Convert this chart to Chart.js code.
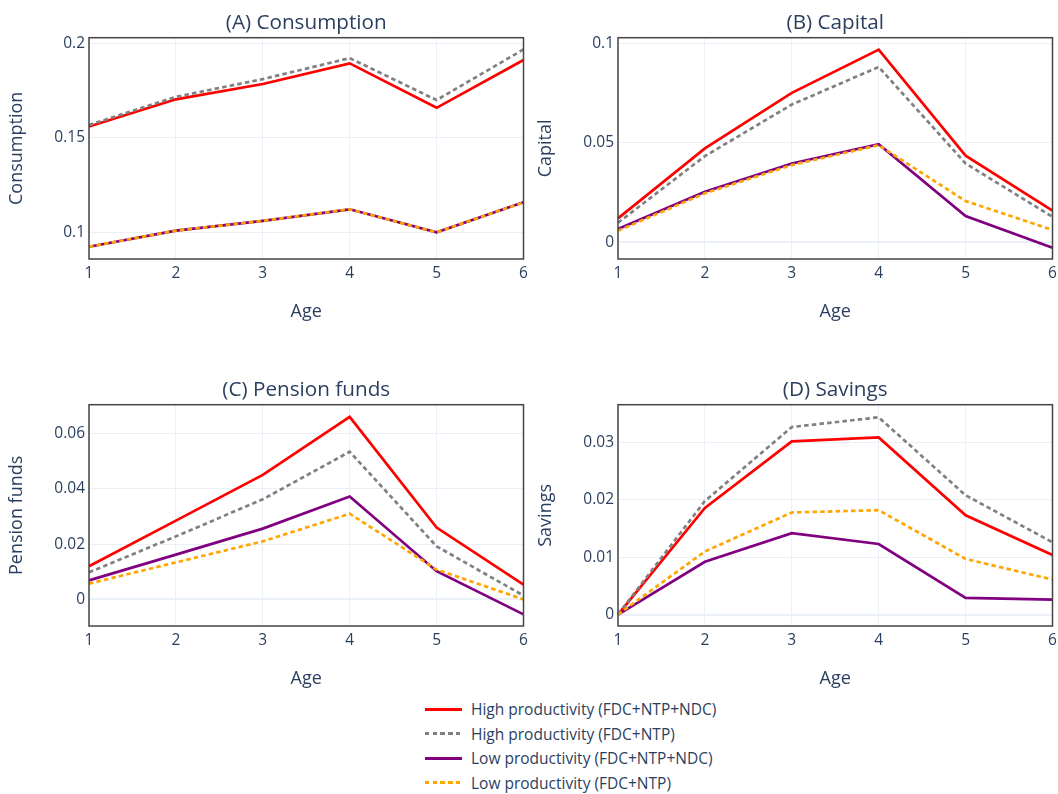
<!DOCTYPE html>
<html>
<head>
<meta charset="utf-8">
<script src="https://cdn.jsdelivr.net/npm/chart.js@4.4.1/dist/chart.umd.min.js"></script>
<style>
body{margin:0;background:#fff;font-family:"Open Sans",sans-serif;}
#wrap{position:relative;width:1058px;height:794px;overflow:hidden;}
#wrap canvas{position:absolute;}
.legend{position:absolute;left:425px;top:697px;color:#2a3f5f;font-size:15.5px;}
.row{height:24.5px;display:flex;align-items:center;white-space:nowrap;}
.sw{width:37px;height:3px;margin-right:9px;}
</style>
</head>
<body>
<div id="wrap">
  <canvas id="pA" width="529" height="329" style="left:0;top:0"></canvas>
  <canvas id="pB" width="529" height="329" style="left:529px;top:0"></canvas>
  <canvas id="pC" width="529" height="329" style="left:0;top:367px"></canvas>
  <canvas id="pD" width="529" height="329" style="left:529px;top:367px"></canvas>
  <div class="legend" id="legend"></div>
</div>
<script>
/* --- DATA --- */
const ages = [1, 2, 3, 4, 5, 6];
const seriesLabels = [
  'High productivity (FDC+NTP+NDC)',
  'High productivity (FDC+NTP)',
  'Low productivity (FDC+NTP+NDC)',
  'Low productivity (FDC+NTP)'
];

// (A) Consumption
const consHighNDC = [0.1560, 0.1704, 0.1785, 0.1894, 0.1659, 0.1912];
const consHighNTP = [0.1568, 0.1717, 0.1811, 0.1922, 0.1700, 0.1968];
const consLowNDC  = [0.0924, 0.1009, 0.1061, 0.1122, 0.1000, 0.1159];
const consLowNTP  = [0.0924, 0.1009, 0.1061, 0.1122, 0.1000, 0.1159];
const consTicks = [0.1, 0.15, 0.2];
const consRange = [0.0859, 0.2030];

// (B) Capital
const capHighNDC = [0.0120, 0.0472, 0.0751, 0.0968, 0.0435, 0.0159];
const capHighNTP = [0.0098, 0.0433, 0.0692, 0.0881, 0.0396, 0.0128];
const capLowNDC  = [0.0067, 0.0254, 0.0396, 0.0493, 0.0132, -0.0027];
const capLowNTP  = [0.0058, 0.0246, 0.0388, 0.0488, 0.0207, 0.0062];
const capTicks = [0, 0.05, 0.1];
const capRange = [-0.0084, 0.1028];

// (C) Pension funds
const penHighNDC = [0.0120, 0.0285, 0.0450, 0.0660, 0.0260, 0.0054];
const penHighNTP = [0.0098, 0.0228, 0.0362, 0.0534, 0.0192, 0.0014];
const penLowNDC  = [0.0069, 0.0162, 0.0256, 0.0372, 0.0102, -0.0054];
const penLowNTP  = [0.0057, 0.0134, 0.0210, 0.0310, 0.0108, 0.0000];
const penTicks = [0, 0.02, 0.04, 0.06];
const penRange = [-0.0096, 0.0704];

// (D) Savings
const savHighNDC = [0, 0.0186, 0.0302, 0.0309, 0.0173, 0.0104];
const savHighNTP = [0, 0.0198, 0.0327, 0.0344, 0.0208, 0.0126];
const savLowNDC  = [0, 0.0092, 0.0142, 0.0123, 0.0029, 0.0026];
const savLowNTP  = [0, 0.0110, 0.0178, 0.0182, 0.0097, 0.0061];
const savTicks = [0, 0.01, 0.02, 0.03];
const savRange = [-0.0020, 0.0366];

/* --- STYLE --- */
const ink = '#2a3f5f';
const gridCol = '#ebf0f8';
const colors = ['#ff0000', '#808080', '#800080', '#ffa500'];
const dot = [4.5, 3.2];
const dashes = [[], dot, [], dot];
const fam = '"Open Sans", sans-serif';
Chart.defaults.font.family = fam;
Chart.defaults.color = ink;

// plotly-style mirrored box around the plot area, plus subplot title centred on it
const frame = {
  id: 'frame',
  afterDatasetsDraw(c){
    const a = c.chartArea, x = c.ctx;
    x.save();
    x.strokeStyle = '#444';
    x.lineWidth = 1.5;
    x.strokeRect(a.left, a.top, a.right - a.left, a.bottom - a.top);
    x.restore();
  },
  afterDraw(c, args, opts){
    const a = c.chartArea, x = c.ctx;
    x.save();
    x.fillStyle = ink;
    x.font = '20.7px ' + fam;
    x.textAlign = 'center';
    x.textBaseline = 'middle';
    x.fillText(opts.text, (a.left + a.right) / 2, 22.7);
    x.restore();
  }
};

function panel(id, title, yTitle, series, yTicks, yRange){
  return new Chart(document.getElementById(id), {
    type: 'line',
    data: {
      labels: ages,
      datasets: series.map((d, i) => ({
        label: seriesLabels[i],
        data: d,
        borderColor: colors[i],
        borderWidth: 2.7,
        borderDash: dashes[i],
        pointRadius: 0,
        fill: false,
        tension: 0,
        order: 4 - i
      }))
    },
    options: {
      responsive: false,
      animation: false,
      events: [],
      layout: {padding: {left: 0, right: 5.5, top: 37.7, bottom: 0}},
      plugins: {
        legend: {display: false},
        tooltip: {enabled: false},
        title: {display: false},
        frame: {text: title}
      },
      scales: {
        x: {
          offset: false,
          grid: {color: gridCol, drawTicks: false},
          border: {display: false},
          ticks: {color: ink, font: {size: 15.5}, padding: 5.7, maxRotation: 0, autoSkip: false},
          title: {display: true, text: 'Age', color: ink, font: {size: 18}, padding: {top: 0, bottom: 6.2}},
          afterFit: s => { s.height = 70; s.paddingLeft = 0; s.paddingRight = 0; }
        },
        y: {
          min: yRange[0], max: yRange[1],
          grid: {color: gridCol, drawTicks: false,
                 lineWidth: c => (c.tick && c.tick.value === 0) ? 2 : 1},
          border: {display: false},
          afterBuildTicks: s => { s.ticks = yTicks.map(v => ({value: v})); },
          ticks: {color: ink, font: {size: 15.5}, padding: 4,
                  callback: v => String(Number(v.toFixed(6)))},
          title: {display: true, text: yTitle, color: ink, font: {size: 18}, padding: {top: 6.2, bottom: 0}},
          afterFit: s => { s.width = 89; }
        }
      }
    },
    plugins: [frame]
  });
}

panel('pA', '(A) Consumption', 'Consumption', [consHighNDC, consHighNTP, consLowNDC, consLowNTP], consTicks, consRange);
panel('pB', '(B) Capital', 'Capital', [capHighNDC, capHighNTP, capLowNDC, capLowNTP], capTicks, capRange);
panel('pC', '(C) Pension funds', 'Pension funds', [penHighNDC, penHighNTP, penLowNDC, penLowNTP], penTicks, penRange);
panel('pD', '(D) Savings', 'Savings', [savHighNDC, savHighNTP, savLowNDC, savLowNTP], savTicks, savRange);

/* --- SHARED LEGEND --- */
document.getElementById('legend').innerHTML = seriesLabels.map((l, i) => {
  const bg = dashes[i].length
    ? `repeating-linear-gradient(to right, ${colors[i]} 0 ${dot[0]}px, transparent ${dot[0]}px ${dot[0] + dot[1]}px)`
    : colors[i];
  return `<div class="row"><div class="sw" style="background:${bg}"></div><span>${l}</span></div>`;
}).join('');
</script>
</body>
</html>
